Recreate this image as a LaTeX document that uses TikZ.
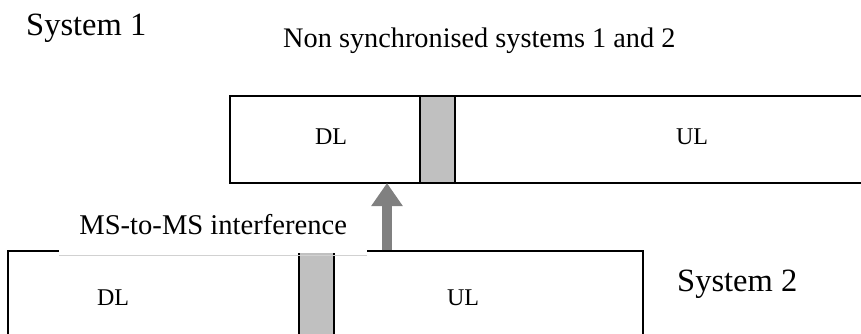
\documentclass[tikz,border=0pt]{standalone}
\usepackage{fontspec}
\setmainfont{Liberation Serif}
\usetikzlibrary{arrows.meta}
\definecolor{guardgray}{RGB}{192,192,192}
\definecolor{arrowgray}{RGB}{128,128,128}
\tikzset{
  framebar/.style={draw=black, line width=2pt, fill=white, inner sep=0pt, outer sep=0pt, anchor=north west},
  guardbar/.style={draw=black, line width=2pt, fill=guardgray, inner sep=0pt, outer sep=0pt, anchor=north west, minimum width=35pt},
  slotlabel/.style={font=\fontsize{24}{28}\selectfont, inner sep=0pt},
  systitle/.style={font=\fontsize{32.5}{38}\selectfont, inner sep=0pt, anchor=base west},
  captiontext/.style={font=\fontsize{28.3}{34}\selectfont, inner sep=0pt, anchor=base west},
  intf/.style={draw=arrowgray, line width=10pt, -{Triangle[width=30pt,length=23pt]}},
}
\begin{document}
\begin{tikzpicture}[x=1pt, y=-1pt]
\clip (0,0) rectangle (861,333);
\useasboundingbox (0,0) rectangle (861,333);
% System 1 frame
\node[framebar, minimum width=650pt, minimum height=87pt] (bar1) at (230,96) {};
\node[guardbar, minimum height=87pt] (g1) at (420,96) {};
\node[slotlabel] (dl1) at (331,137) {DL};
\node[slotlabel] (ul1) at (692,137) {UL};
% System 2 frame
\node[framebar, minimum width=635pt, minimum height=110pt] (bar2) at (8,251) {};
\node[guardbar, minimum height=110pt] (g2) at (299,251) {};
\node[slotlabel] (dl2) at (113,298) {DL};
\node[slotlabel] (ul2) at (463,298) {UL};
% titles
\node[systitle] (s1) at (26,35) {System 1};
\node[systitle] (s2) at (677,291) {System 2};
\node[captiontext] (cap) at (283,47) {Non synchronised systems 1 and 2};
% interference label
\node[fill=white, font=\fontsize{28.6}{34}\selectfont, anchor=south west,
      minimum width=308pt, inner xsep=0pt, inner ysep=12pt,
      text height=20pt, text depth=6pt] (intlab) at (59,253) {MS-to-MS interference};
\draw[black!18, line width=1pt] ([yshift=-2pt]intlab.south west) -- ([yshift=-2pt]intlab.south east);
% arrow
\coordinate (abase) at (387,250);
\draw[intf] (abase) -- (bar1.south -| abase);
\end{tikzpicture}
\end{document}
